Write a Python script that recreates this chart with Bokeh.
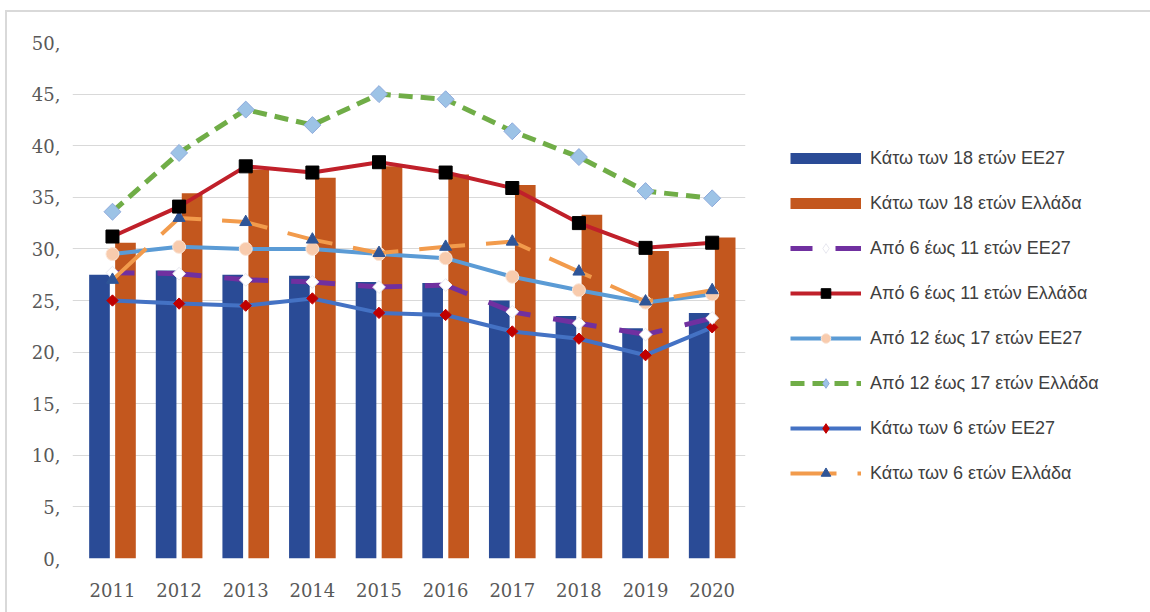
from bokeh.plotting import figure
from bokeh.models import ColumnDataSource, Range1d, FixedTicker, Legend, LegendItem
from bokeh.transform import dodge
from bokeh.embed import file_html
from bokeh.resources import INLINE

years = ["2011", "2012", "2013", "2014", "2015", "2016", "2017", "2018", "2019", "2020"]
y_ticks = [0, 5, 10, 15, 20, 25, 30, 35, 40, 45, 50]

under18_eu27 = [27.5, 27.9, 27.5, 27.4, 26.8, 26.7, 25.0, 23.5, 22.3, 23.8]
under18_gr = [30.6, 35.4, 37.7, 36.9, 38.0, 37.2, 36.2, 33.3, 29.8, 31.1]
age6_11_eu27 = [27.7, 27.6, 27.0, 26.8, 26.3, 26.5, 23.9, 22.8, 21.7, 23.3]
age6_11_gr = [31.2, 34.1, 38.0, 37.4, 38.4, 37.4, 35.9, 32.5, 30.1, 30.6]
age12_17_eu27 = [29.5, 30.2, 30.0, 30.0, 29.5, 29.1, 27.3, 26.0, 24.8, 25.6]
age12_17_gr = [33.6, 39.3, 43.5, 42.0, 45.0, 44.5, 41.4, 38.9, 35.6, 34.9]
under6_eu27 = [25.0, 24.7, 24.5, 25.2, 23.8, 23.6, 22.0, 21.3, 19.7, 22.4]
under6_gr = [27.0, 33.0, 32.6, 30.9, 29.6, 30.2, 30.7, 27.8, 24.9, 26.0]

labels = [
    "Κάτω των 18 ετών ΕΕ27",
    "Κάτω των 18 ετών Ελλάδα",
    "Από 6 έως 11 ετών ΕΕ27",
    "Από 6 έως 11 ετών Ελλάδα",
    "Από 12 έως 17 ετών ΕΕ27",
    "Από 12 έως 17 ετών Ελλάδα",
    "Κάτω των 6 ετών ΕΕ27",
    "Κάτω των 6 ετών Ελλάδα",
]

idx = list(range(len(years)))
src = ColumnDataSource(dict(
    x=idx, u18eu=under18_eu27, u18gr=under18_gr,
    a611eu=age6_11_eu27, a611gr=age6_11_gr,
    a1217eu=age12_17_eu27, a1217gr=age12_17_gr,
    u6eu=under6_eu27, u6gr=under6_gr,
))

p = figure(frame_width=673, frame_height=516, output_backend="svg", toolbar_location=None,
           x_range=Range1d(-0.6, 9.5), y_range=Range1d(0, 50),
           min_border_left=65, min_border_right=0, min_border_top=30, min_border_bottom=54)
p.margin = (10, 0, 0, 5)
p.styles = {"border-top": "2px solid #D9D9D9", "border-left": "2px solid #D9D9D9"}
p.outline_line_color = None
p.background_fill_color = "white"
p.border_fill_color = "white"

BLUE_BAR = "#2A4B96"
ORANGE_BAR = "#C3571E"

b1 = p.vbar(x=dodge("x", -0.195), top="u18eu", width=0.31, source=src,
            fill_color=BLUE_BAR, line_color=None)
b2 = p.vbar(x=dodge("x", 0.195), top="u18gr", width=0.31, source=src,
            fill_color=ORANGE_BAR, line_color=None)

# legend-only proxies (draw nothing in the plot)
nan = float("nan")
proxy = ColumnDataSource(dict(x=[nan], y=[nan]))
pb1 = p.line("x", "y", source=proxy, line_color=BLUE_BAR, line_width=11)
pb2 = p.line("x", "y", source=proxy, line_color=ORANGE_BAR, line_width=11)

# Under 6 EU27
l7 = p.line("x", "u6eu", source=src, line_color="#4472C4", line_width=4)
m7 = p.scatter("x", "u6eu", source=src, marker="square", angle=0.785, size=8,
               fill_color="#C00000", line_color="#C00000")
pm7 = p.scatter("x", "y", source=proxy, marker="diamond", size=13,
                fill_color="#C00000", line_color="#C00000")
# 12-17 EU27
l5 = p.line("x", "a1217eu", source=src, line_color="#5B9BD5", line_width=4)
m5 = p.scatter("x", "a1217eu", source=src, marker="circle", size=13,
               fill_color="#F8CBAD", line_color="#FBE5D6", line_width=1)
# 6-11 EU27
l3 = p.line("x", "a611eu", source=src, line_color="#7030A0", line_width=5,
            line_dash="44 23", line_dash_offset=22)
m3 = p.scatter("x", "a611eu", source=src, marker="square", angle=0.785, size=9,
               fill_color="white", line_color="#E8E8F0")
pm3 = p.scatter("x", "y", source=proxy, marker="diamond", size=12,
                fill_color="white", line_color="#E8E8F0")
# under 6 Greece
l8 = p.line("x", "u6gr", source=src, line_color="#F29B4C", line_width=4,
            line_dash="46 21")
m8 = p.scatter("x", "u6gr", source=src, marker="triangle", size=12,
               fill_color="#2F5597", line_color="#2F5597")
# 6-11 Greece
l4 = p.line("x", "a611gr", source=src, line_color="#C0202A", line_width=4)
m4 = p.scatter("x", "a611gr", source=src, marker="square", size=13,
               fill_color="black", line_color="black")
# 12-17 Greece
l6 = p.line("x", "a1217gr", source=src, line_color="#70AD47", line_width=5,
            line_dash="14 8")
m6 = p.scatter("x", "a1217gr", source=src, marker="square", angle=0.785, size=12,
               fill_color="#9DC3E6", line_color="#8FAADC", line_width=1)
pm6 = p.scatter("x", "y", source=proxy, marker="diamond", size=14,
                fill_color="#9DC3E6", line_color="#8FAADC")

items = [
    LegendItem(label=labels[0], renderers=[pb1]),
    LegendItem(label=labels[1], renderers=[pb2]),
    LegendItem(label=labels[2], renderers=[l3, pm3]),
    LegendItem(label=labels[3], renderers=[l4, m4]),
    LegendItem(label=labels[4], renderers=[l5, m5]),
    LegendItem(label=labels[5], renderers=[l6, pm6]),
    LegendItem(label=labels[6], renderers=[l7, pm7]),
    LegendItem(label=labels[7], renderers=[l8, m8]),
]
legend = Legend(items=items, location=(45, 73), glyph_width=71, glyph_height=24,
                label_height=24, spacing=21, padding=0, margin=0, label_standoff=9,
                border_line_color=None, background_fill_alpha=0,
                label_text_font="Liberation Sans", label_text_font_size="18px",
                label_text_color="#404040")
p.add_layout(legend, "right")

p.xaxis.ticker = FixedTicker(ticks=idx)
p.xaxis.major_label_overrides = {i: years[i] for i in idx}
p.yaxis.ticker = FixedTicker(ticks=y_ticks)
p.yaxis.major_label_overrides = {v: f"{v}," for v in y_ticks}
for ax in (p.xaxis, p.yaxis):
    ax.axis_line_color = None
    ax.major_tick_line_color = None
    ax.minor_tick_line_color = None
    ax.major_tick_out = 0
    ax.major_tick_in = 0
    ax.major_label_text_font = "DejaVu Serif"
    ax.major_label_text_font_size = "18px"
    ax.major_label_text_color = "#595959"
p.xaxis.major_label_standoff = 24
p.yaxis.major_label_standoff = 12
p.xgrid.grid_line_color = None
p.ygrid.grid_line_color = "#D9D9D9"
p.ygrid.grid_line_width = 1

open("out.html", "w").write(file_html(p, INLINE))
